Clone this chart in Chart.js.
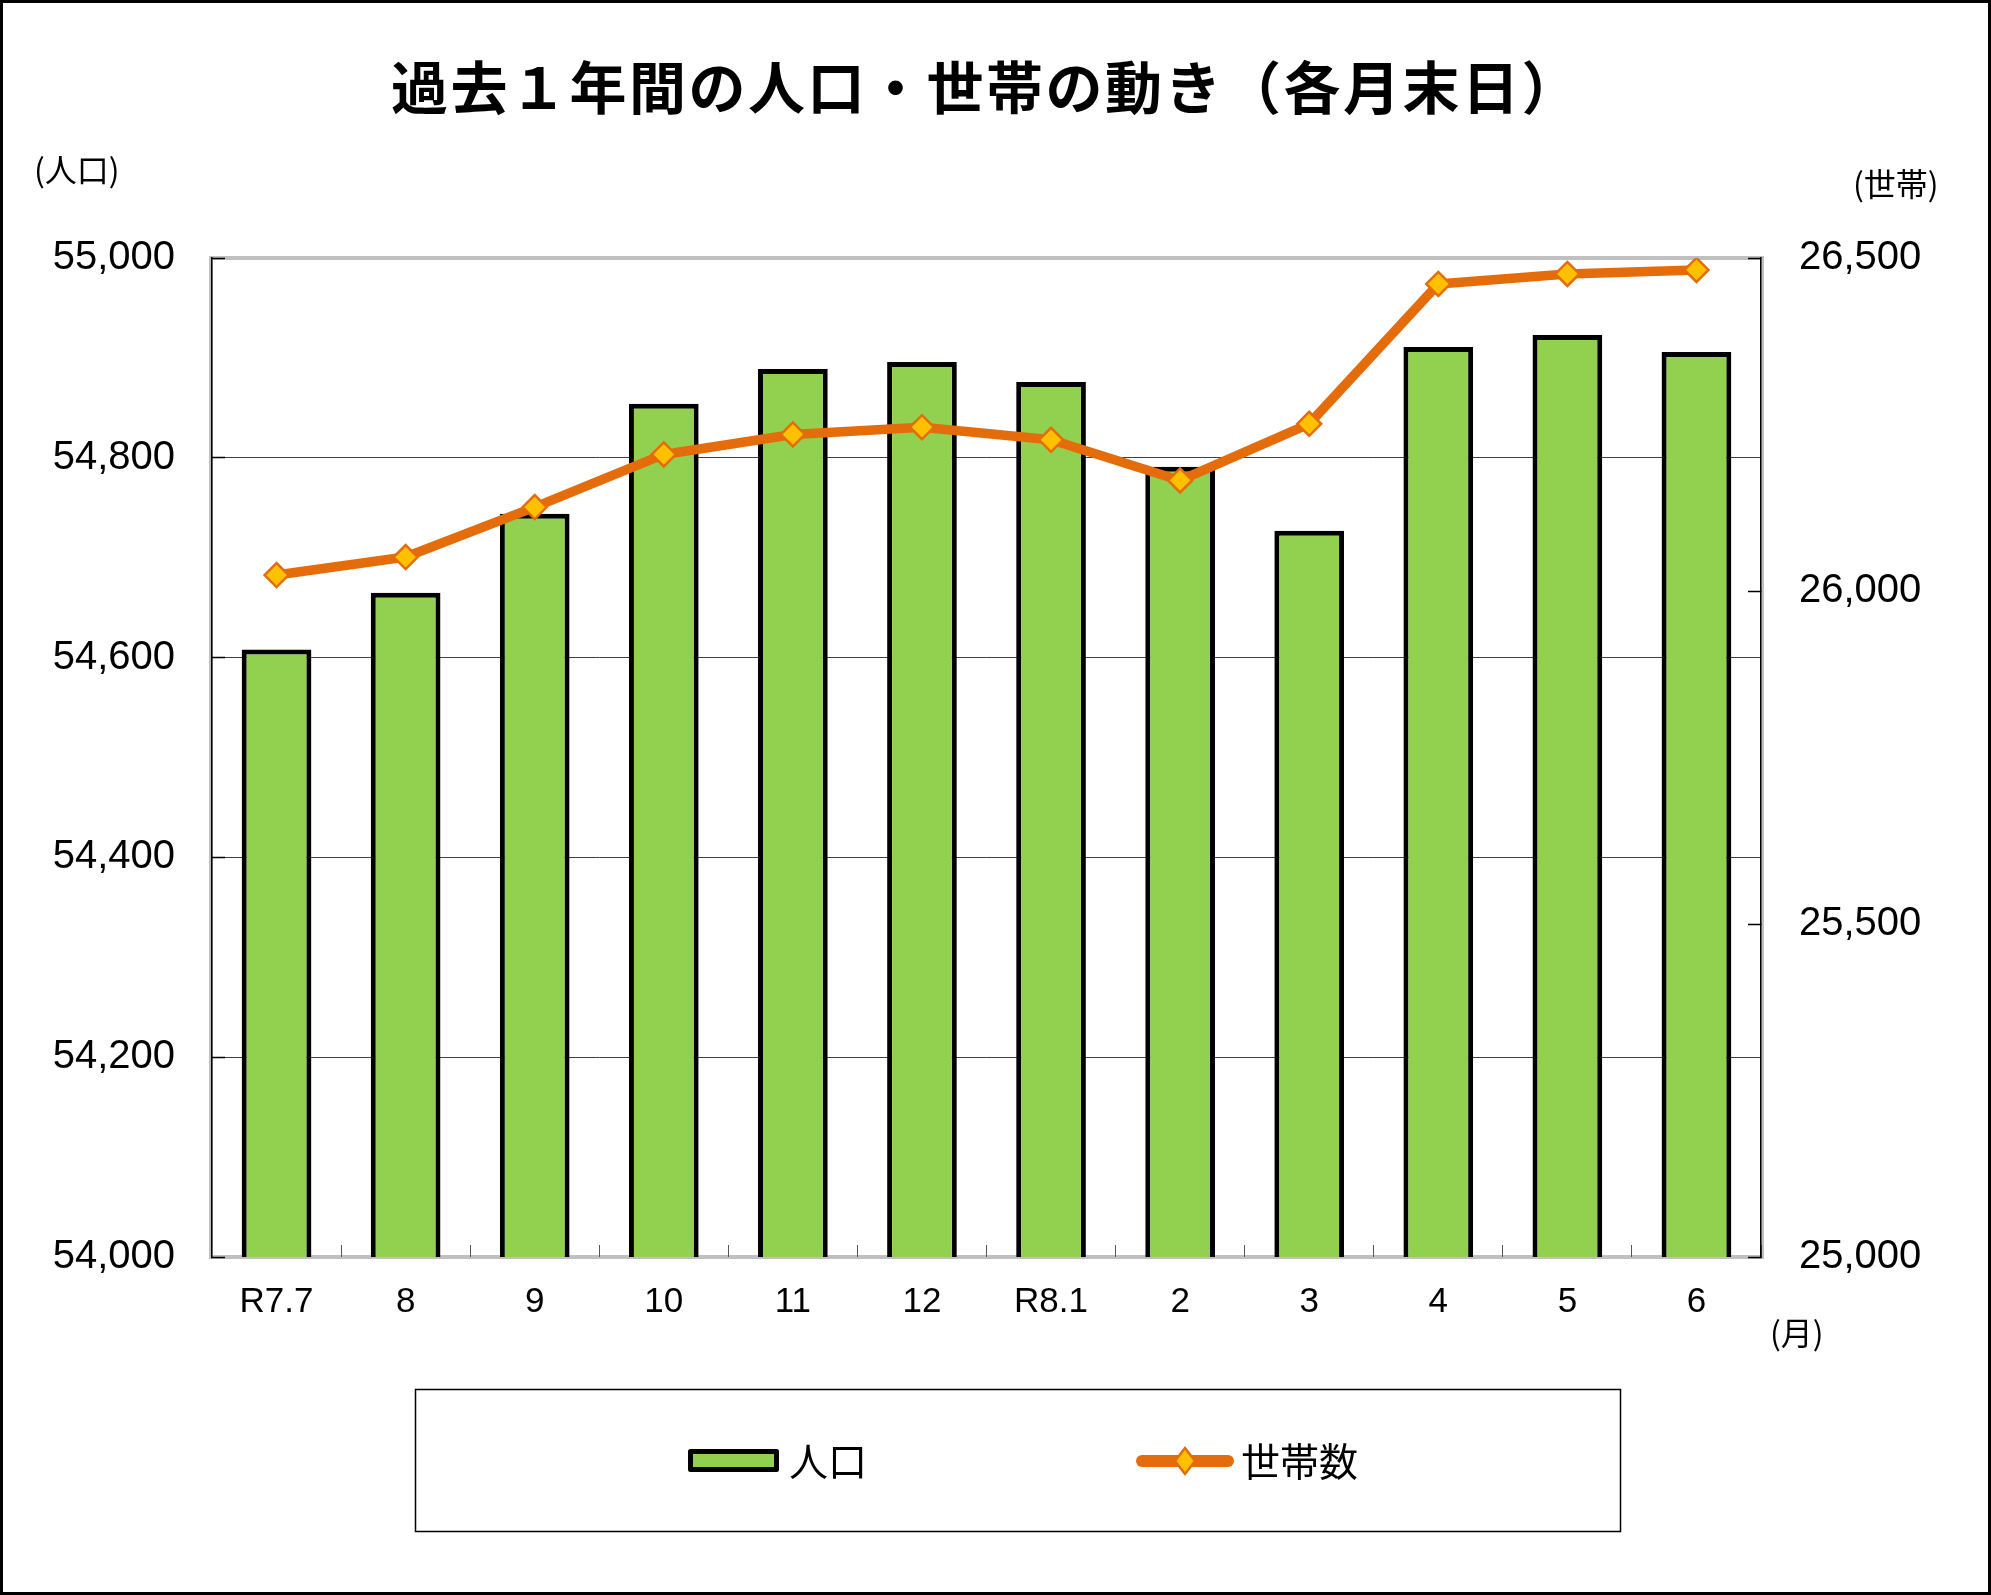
<!DOCTYPE html>
<html lang="ja">
<head>
<meta charset="utf-8">
<title>過去1年間の人口・世帯の動き</title>
<script src="https://cdn.jsdelivr.net/npm/chart.js@4.4.1/dist/chart.umd.min.js"></script>
<style>
  html, body { margin: 0; padding: 0; background: #fff; }
  #wrap { width: 1991px; height: 1595px; position: relative; }
</style>
</head>
<body>
<div id="wrap"><canvas id="chart"></canvas></div>
<script>
// 過去1年間の人口・世帯の動き（各月末日）

const months = ['R7.7', '8', '9', '10', '11', '12', 'R8.1', '2', '3', '4', '5', '6'];
const population = [54608, 54665, 54744, 54854, 54889, 54896, 54876, 54791, 54727, 54911, 54923, 54906];
const households = [26024, 26051, 26126, 26205, 26235, 26246, 26227, 26166, 26251, 26461, 26476, 26482];

// 軸の範囲（最小, 最大, 目盛間隔）
const popAxis = [54000, 55000, 200];
const hhAxis = [25000, 26500, 500];

const GREEN = '#92D050';
const ORANGE = '#E46C0A';
const YELLOW = '#FFC000';
const NUM_FONT = '"Liberation Sans", Arial, sans-serif';
const JP_FONT = '"Noto Sans CJK JP", sans-serif';

// ── 装飾（タイトル・単位・凡例・外枠） ─────────────────────
const decor = {
  id: 'decor',
  beforeDraw(chart) {
    const { ctx, chartArea: a } = chart;
    ctx.save();
    ctx.fillStyle = '#fff';
    ctx.fillRect(0, 0, chart.width, chart.height);
    ctx.strokeStyle = '#c0c0c0';
    ctx.lineWidth = 4;
    ctx.strokeRect(a.left - 1, a.top, a.right - a.left + 2, a.bottom - a.top);
    ctx.restore();
  },
  afterDraw(chart) {
    const { ctx } = chart;
    ctx.save();
    ctx.fillStyle = '#000';

    // タイトル
    ctx.font = 'bold 57px ' + JP_FONT;
    ctx.textAlign = 'center';
    ctx.textBaseline = 'middle';
    ctx.letterSpacing = '2.5px';
    ctx.fillText('過去１年間の人口・世帯の動き（各月末日）', 986, 87);
    ctx.letterSpacing = '0px';

    // 単位
    ctx.font = '32px ' + JP_FONT;
    ctx.textAlign = 'left';
    ctx.fillText('(人口)', 34, 170);
    ctx.fillText('(世帯)', 1853, 184);
    ctx.fillText('(月)', 1770, 1333);

    // 凡例
    const bar = chart.data.datasets.find(d => d.type === 'bar');
    const line = chart.data.datasets.find(d => d.type === 'line');
    ctx.strokeStyle = '#000';
    ctx.lineWidth = 1.5;
    ctx.strokeRect(415.5, 1389.5, 1205, 142);

    ctx.fillStyle = bar.backgroundColor;
    ctx.strokeStyle = bar.borderColor;
    ctx.lineWidth = 5;
    ctx.lineJoin = 'round';
    ctx.fillRect(690.5, 1451.5, 86, 18);
    ctx.strokeRect(690.5, 1451.5, 86, 18);

    ctx.strokeStyle = line.borderColor;
    ctx.lineWidth = 12;
    ctx.lineCap = 'round';
    ctx.beginPath();
    ctx.moveTo(1142, 1461);
    ctx.lineTo(1228, 1461);
    ctx.stroke();
    ctx.fillStyle = line.pointBackgroundColor;
    ctx.lineWidth = 2.5;
    ctx.lineJoin = 'miter';
    ctx.beginPath();
    ctx.moveTo(1185, 1448); ctx.lineTo(1195, 1461); ctx.lineTo(1185, 1474); ctx.lineTo(1175, 1461);
    ctx.closePath();
    ctx.fill();
    ctx.stroke();

    ctx.fillStyle = '#000';
    ctx.font = '39px ' + JP_FONT;
    ctx.textBaseline = 'middle';
    ctx.fillText(bar.label, 789, 1461);
    ctx.fillText(line.label, 1241, 1461);

    // 外枠
    ctx.strokeStyle = '#000';
    ctx.lineWidth = 3;
    ctx.strokeRect(1.5, 1.5, chart.width - 3, chart.height - 3);
    ctx.restore();
  }
};

const edgeOrGrid = (ctx) => {
  const v = ctx.tick && ctx.tick.value;
  return (v === popAxis[0] || v === popAxis[1]) ? 'rgba(0,0,0,0)' : '#404040';
};

new Chart(document.getElementById('chart'), {
  data: {
    labels: months,
    datasets: [
      {
        type: 'line', label: '世帯数', data: households, yAxisID: 'y1', order: 0,
        borderColor: ORANGE, borderWidth: 9.5, borderJoinStyle: 'round', borderCapStyle: 'round',
        pointStyle: 'rectRot', pointRadius: 12, pointBorderWidth: 2.5,
        pointBorderColor: ORANGE, pointBackgroundColor: YELLOW,
        tension: 0, fill: false
      },
      {
        type: 'bar', label: '人口', data: population, yAxisID: 'y', order: 1,
        backgroundColor: GREEN, borderColor: '#000', borderWidth: 5, borderSkipped: false,
        barPercentage: 0.54, categoryPercentage: 1
      }
    ]
  },
  options: {
    responsive: true, maintainAspectRatio: false, animation: false,
    locale: 'en-US',
    layout: { padding: { top: 258, left: 0, right: 0, bottom: 0 } },
    plugins: { legend: { display: false }, title: { display: false }, tooltip: { enabled: false } },
    scales: {
      x: {
        offset: true,
        grid: { drawOnChartArea: false, drawTicks: true, tickLength: -12, tickColor: '#555', tickWidth: 1 },
        border: { display: false },
        ticks: { color: '#000', font: { family: NUM_FONT, size: 35 }, padding: 36, maxRotation: 0, autoSkip: false },
        afterFit: (s) => { s.height = 338; }
      },
      y: {
        position: 'left', min: popAxis[0], max: popAxis[1],
        grid: { color: edgeOrGrid, lineWidth: 1, tickLength: -13, tickColor: '#000', tickWidth: 1.5 },
        border: { color: '#000', width: 1.5 },
        ticks: { stepSize: popAxis[2], color: '#000', font: { family: NUM_FONT, size: 40 }, padding: 50,
                 callback: v => v.toLocaleString('en-US') },
        afterFit: (s) => { s.width = 212; }
      },
      y1: {
        position: 'right', min: hhAxis[0], max: hhAxis[1],
        grid: { drawOnChartArea: false, tickLength: -13, tickColor: '#000', tickWidth: 1.5 },
        border: { color: '#000', width: 1.5 },
        ticks: { stepSize: hhAxis[2], color: '#000', font: { family: NUM_FONT, size: 40 }, padding: 51,
                 callback: v => v.toLocaleString('en-US') },
        afterFit: (s) => { s.width = 230; }
      }
    }
  },
  plugins: [decor]
});
</script>
</body>
</html>
